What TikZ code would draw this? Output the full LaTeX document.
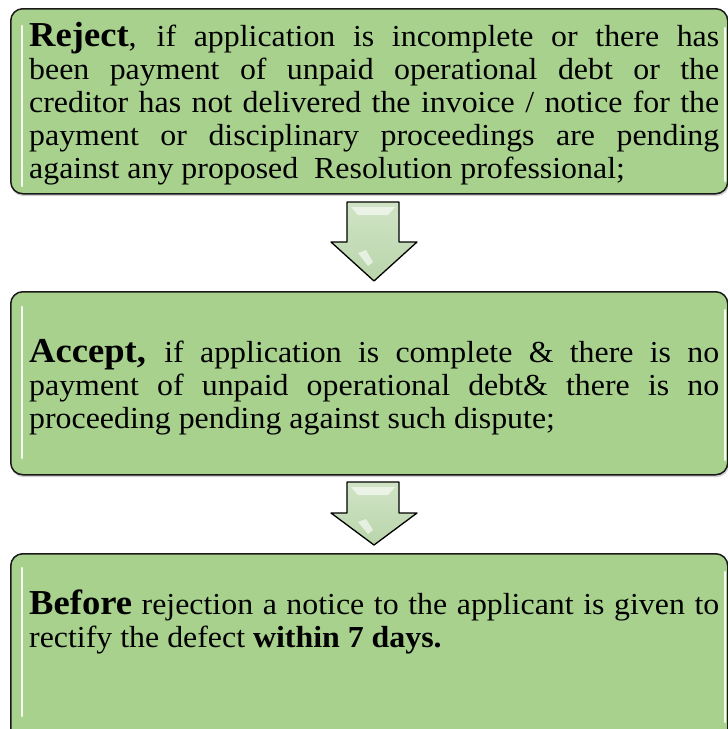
\documentclass[tikz,border=0pt]{standalone}
\usepackage{fontspec}
\setmainfont{Liberation Serif}[FakeStretch=1.045]
\definecolor{boxgreen}{HTML}{A9D18E}
\definecolor{arrowtop}{HTML}{D0E4C5}
\definecolor{arrowbot}{HTML}{B9D5AB}
\newcommand{\bigb}[1]{{\fontsize{35}{33}\selectfont\bfseries #1}}
\newcommand{\jline}[1]{\makebox[\linewidth][s]{#1}\\}
\tikzset{
  stepbox/.style={draw=black!90, line width=1.5pt, fill=boxgreen, rounded corners=12pt,
    anchor=north west, inner sep=0pt, minimum width=717pt},
  shadowbox/.style={fill=black, opacity=0.18, rounded corners=12pt},
  glint/.style={draw=white, line width=2.6pt, line cap=round, opacity=0.9},
  txt/.style={anchor=base west, inner sep=0pt, font=\fontsize{30.5}{33}\selectfont},
  blockarrow/.style={draw=black, line width=1.3pt, line join=round, top color=arrowtop, bottom color=arrowbot},
  shine/.style={fill=white, opacity=0.6, draw=none}
}
\begin{document}
\begin{tikzpicture}[x=1pt,y=-1pt]
\useasboundingbox (0,0) rectangle (728,729);
\clip (0,0) rectangle (728,729);
% shadows
\fill[shadowbox] (11,10) rectangle (729,196);
\fill[shadowbox] (11,293) rectangle (729,477);
\fill[shadowbox] (11,555) rectangle (729,760);
% boxes
\node[stepbox, minimum height=185pt] (b1) at (10,8) {};
\node[stepbox, minimum height=183pt] (b2) at (10,291) {};
\node[stepbox, minimum height=200pt] (b3) at (10,553) {};
% highlights
\draw[glint] (22,26) -- (22,186);
\draw[glint] (725,28) -- (725,181);
\draw[glint] (22,307) -- (22,458);
\draw[glint] (725,310) -- (725,460);
\draw[glint] (22,568) -- (22,716);
\draw[glint] (725,572) -- (725,722);
% arrows
\draw[blockarrow] (347,202) -- (399,202) -- (399,242) -- (417,242) -- (374,281) -- (331,242) -- (347,242) -- cycle;
\fill[shine] (351,207) -- (395,207) -- (388,215) -- (358,215) -- cycle;
\fill[shine] (358,253) -- (366,250) -- (373,262) -- (368,266) -- cycle;
\draw[blockarrow] (347,482) -- (399,482) -- (399,513) -- (417,513) -- (374,545) -- (331,513) -- (347,513) -- cycle;
\fill[shine] (351,487) -- (395,487) -- (388,495) -- (358,495) -- cycle;
\fill[shine] (358,522) -- (366,519) -- (373,530) -- (368,534) -- cycle;
% texts
\node[txt] (t1) at (29,46) {\parbox[t]{690pt}{%
\jline{\bigb{Reject}, if application is incomplete or there has}
\jline{been payment of unpaid operational debt or the}
\jline{creditor has not delivered the invoice / notice for the}
\jline{payment or disciplinary proceedings are pending}
against any proposed\ \ Resolution professional;}};
\node[txt] (t2) at (29,362) {\parbox[t]{690pt}{%
\jline{\bigb{Accept,} if application is complete \& there is no}
\jline{payment of unpaid operational debt\& there is no}
proceeding pending against such dispute;}};
\node[txt] (t3) at (29,614) {\parbox[t]{690pt}{%
\jline{\bigb{Before} rejection a notice to the applicant is given to}
rectify the defect \textbf{within 7 days.}}};
\end{tikzpicture}
\end{document}
